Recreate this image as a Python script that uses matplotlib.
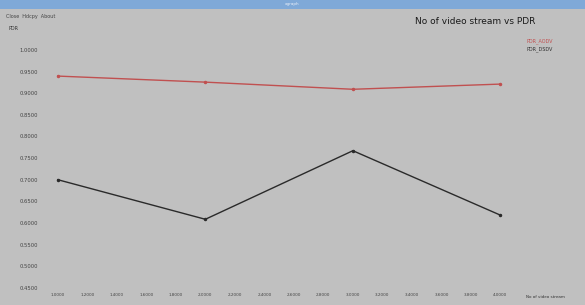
import numpy as np
import matplotlib
matplotlib.use('Agg')
import matplotlib.pyplot as plt
from matplotlib.patches import Rectangle

# data
streams = [1, 2, 3, 4]
pdr_aodv = [0.9395, 0.9255, 0.909, 0.921]
pdr_dsdv = [0.700, 0.6085, 0.767, 0.618]

x_ticks = np.arange(1.0, 4.01, 0.2)
y_ticks = np.arange(0.45, 1.001, 0.05)

bg = '#c0c0c0'
fig = plt.figure(figsize=(5.85, 3.05), dpi=100, facecolor=bg)

# window title bar
fig.patches.append(Rectangle((0, 0.972), 1, 0.028, transform=fig.transFigure,
                             facecolor='#7fa9d8', edgecolor='none', zorder=0))
fig.text(0.5, 0.986, 'xgraph', fontsize=3, color='#e8eef8', ha='center', va='center')
fig.text(0.01, 0.945, 'Close  Hdcpy  About', fontsize=3.5, color='#444444', va='center')
fig.text(0.015, 0.905, 'PDR', fontsize=3.5, color='#333333', va='center')

ax = fig.add_axes([0.068, 0.043, 0.82, 0.826])
ax.set_facecolor(bg)
for s in ax.spines.values():
    s.set_visible(False)

ax.plot(streams, pdr_aodv, color='#c05050', lw=1.0, marker='o', ms=1.5)
ax.plot(streams, pdr_dsdv, color='#2a2a2a', lw=1.0, marker='o', ms=1.5)

ax.set_xlim(0.878, 4.129)
ax.set_ylim(0.4407, 1.023)
ax.set_xticks(x_ticks)
ax.set_yticks(y_ticks)
ax.set_xticklabels(['%.4f' % v for v in x_ticks], fontsize=3, color='#444444')
ax.set_yticklabels(['%.4f' % v for v in y_ticks], fontsize=3.8, color='#444444')
ax.tick_params(length=0, pad=1)

fig.text(0.965, 0.025, 'No of video stream', fontsize=3, color='#333333', ha='right', va='center')
fig.text(0.915, 0.93, 'No of video stream vs PDR', fontsize=6.5, color='#1a1a1a', ha='right', va='center')
fig.text(0.90, 0.865, 'PDR_AODV', fontsize=3.5, color='#c05050', va='center')
fig.text(0.90, 0.84, 'PDR_DSDV', fontsize=3.5, color='#333333', va='center')

fig.savefig('out.png', dpi=100, facecolor=bg)
